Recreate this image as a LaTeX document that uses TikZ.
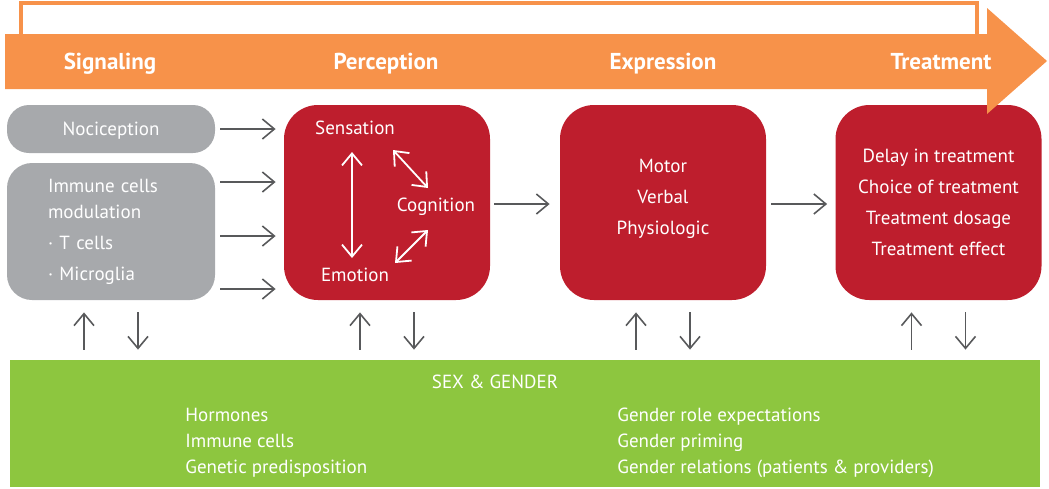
\documentclass[tikz,border=0pt]{standalone}
\usepackage{fontspec}
\setmainfont{PT Sans}
\usetikzlibrary{arrows.meta,calc}
\definecolor{bandorange}{RGB}{247,146,74}
\definecolor{boxred}{RGB}{190,30,45}
\definecolor{boxgrey}{RGB}{167,169,172}
\definecolor{boxgreen}{RGB}{141,198,63}
\definecolor{arrowgrey}{RGB}{88,89,91}

\begin{document}
\begin{tikzpicture}[x=0.5pt, y=-0.5pt,
  flow/.style={draw=arrowgrey, line width=0.8pt, -{Straight Barb[length=6pt,width=10pt]}},
  inner/.style={draw=white, line width=0.9pt, {Straight Barb[length=6pt,width=10pt]}-{Straight Barb[length=6pt,width=10pt]}},
  greybox/.style={fill=boxgrey, minimum width=104pt, text=white, font=\fontsize{9.5}{13}\selectfont},
  redbox/.style={fill=boxred, rounded corners=17pt, minimum width=103pt, minimum height=97.5pt, text=white, align=center, font=\fontsize{9.5}{15.5}\selectfont},
  head/.style={anchor=base, text=white, font=\fontsize{11.5}{13}\selectfont\bfseries}]
\useasboundingbox (0,0) rectangle (1049,488);

\draw[bandorange, line width=1.6pt] (21,34) -- (21,3) -- (977,3) -- (977,34);

\node[greybox, rounded corners=11pt, minimum height=24pt, text depth=0pt] (noci) at (111,129) {Nociception};
\node[greybox, rounded corners=12.5pt, minimum height=68.5pt, align=left, inner xsep=20.5pt, text width=63pt] (immune) at (111,231.5)
  {Immune cells\\modulation\\[2.5pt]· T cells\\[2.5pt]· Microglia};

\node[redbox] (perc) at (387,202.5) {};
\node[redbox, text depth=5.5pt] (expr) at (663,202.5) {Motor\\Verbal\\Physiologic};
\node[redbox] (treat) at (938.5,202.5) {Delay in treatment\\Choice of treatment\\Treatment dosage\\Treatment effect};

\begin{scope}[every node/.style={text=white, inner sep=0, font=\fontsize{9.5}{12}\selectfont}]
\node (sens) at (355,128) {Sensation};
\node (cog) at (436,207) {Cognition};
\node (emo) at (355,275) {Emotion};
\end{scope}
\draw[inner] ($(sens)+(-1.5pt,-12pt)$) -- ($(emo)+(-1.5pt,8.5pt)$);
\draw[inner] ($(cog)+(-21.5pt,28.5pt)$) -- ($(cog)+(-4pt,9.5pt)$);
\draw[inner] ($(cog)+(-20.5pt,-28pt)$) -- ($(cog)+(-4pt,-11.5pt)$);

\fill[bandorange] (5,34) -- (987,34) -- (987,8) -- (1047,61) -- (987,114) -- (987,89) -- (5,89) -- cycle;
\node[head] (sig) at (110,69) {Signaling};
\node[head] (per) at (386,69) {Perception};
\node[head] (exp) at (663,69) {Expression};
\node[head] (trt) at (941,69) {Treatment};

\node[fill=boxgreen, minimum width=515pt, minimum height=63.5pt] (green) at (525,423.5) {};
\begin{scope}[every node/.style={text=white, inner sep=0, align=left, font=\fontsize{9.5}{13}\selectfont}]
\node (sexgen) at (495,382) {SEX \& GENDER};
\node[anchor=west] (bio) at (185,443) {Hormones\\Immune cells\\Genetic predisposition};
\node[anchor=west] (soc) at (617,443) {Gender role expectations\\Gender priming\\Gender relations (patients \& providers)};
\end{scope}

\draw[flow] ($(noci.east)+(2.5pt,0)$) -- ($(noci.east -| perc.west)+(-4pt,0)$);
\foreach \dy in {24.75,-2.25,-28.75}
  \draw[flow] ($(immune.east)+(2.5pt,\dy pt)$) -- ($(immune.east -| perc.west)+(-4pt,\dy pt)$);
\draw[flow] ($(perc.east)+(2pt,-0.75pt)$) -- ($(expr.west)+(-5pt,-0.75pt)$);
\draw[flow] ($(expr.east)+(2.5pt,-0.75pt)$) -- ($(treat.west)+(-4pt,-0.75pt)$);

\foreach \b in {immune,perc,expr,treat}{
  \draw[flow] ($(\b.south |- green.north)+(-13.5pt,5pt)$) -- ($(\b.south)+(-13.5pt,-6pt)$);
  \draw[flow] ($(\b.south)+(13.5pt,-6pt)$) -- ($(\b.south |- green.north)+(13.5pt,5pt)$);
}
\end{tikzpicture}
\end{document}
